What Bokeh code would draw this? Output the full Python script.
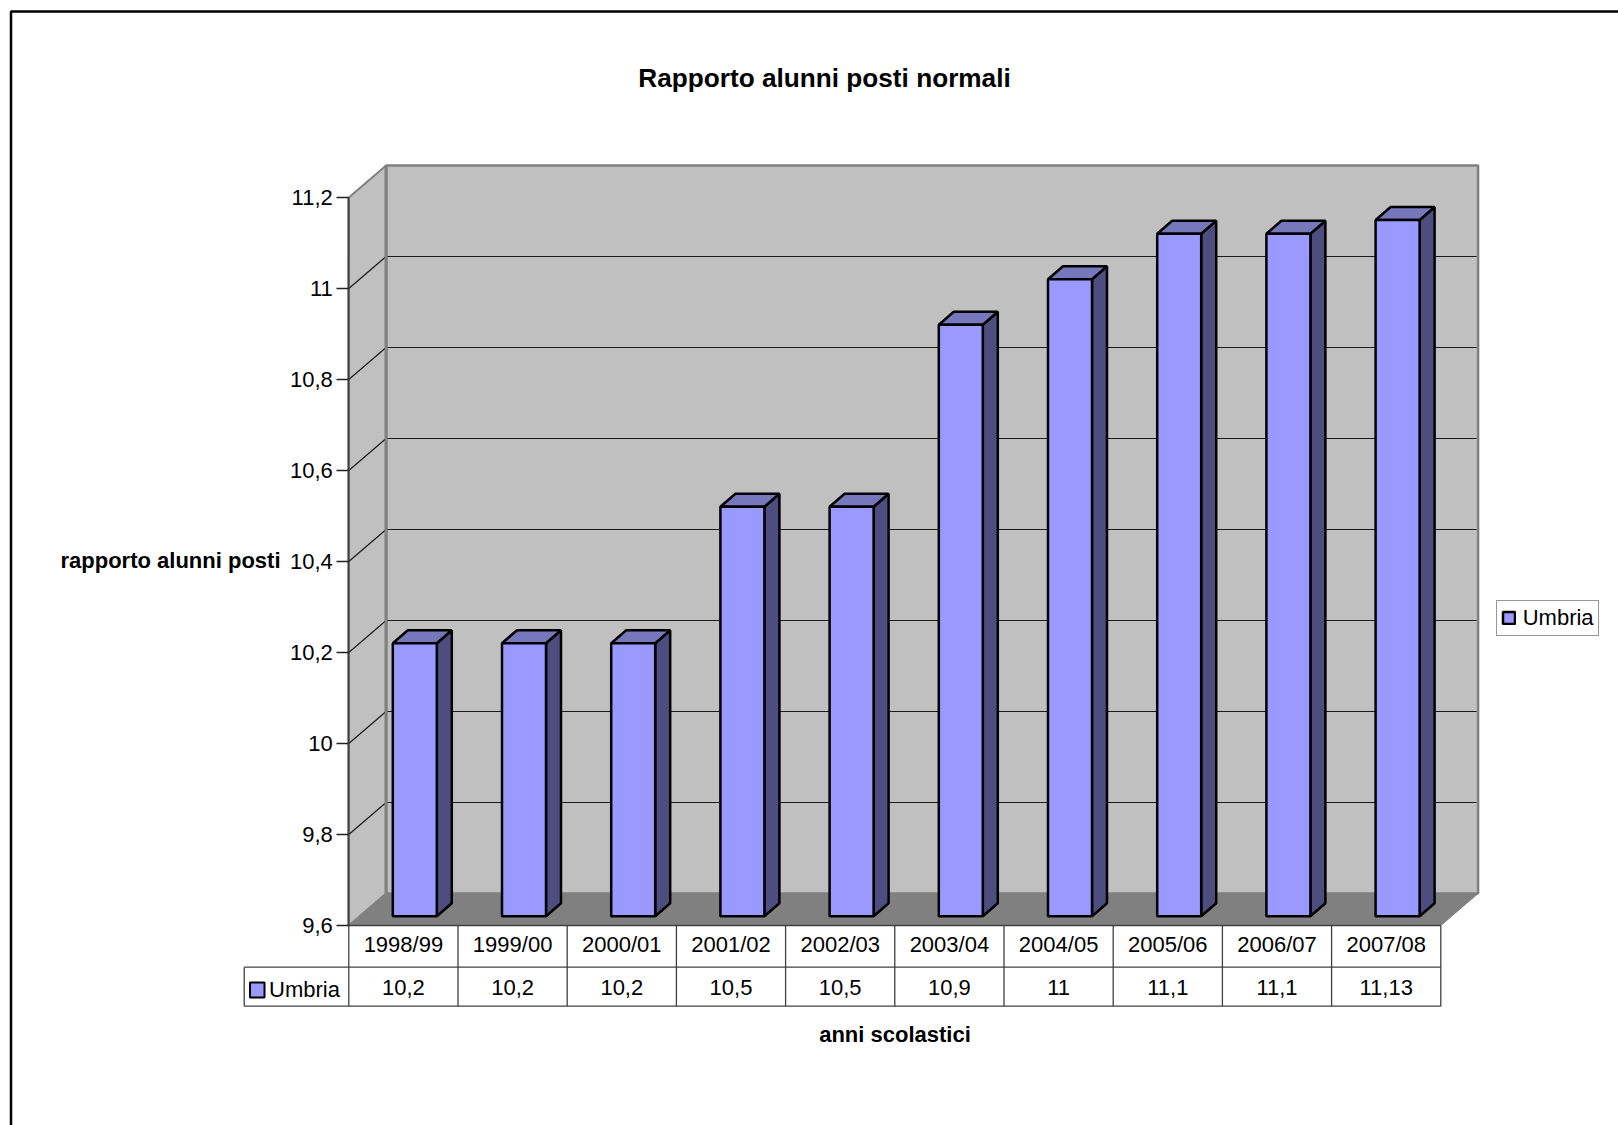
from bokeh.plotting import figure
from bokeh.embed import file_html
from bokeh.resources import INLINE
from bokeh.models import LinearAxis, FixedTicker, Range1d, Label, Legend, LegendItem
from bokeh.core.properties import value

title = "Rapporto alunni posti normali"
y_title = "rapporto alunni posti"
x_title = "anni scolastici"
series_name = "Umbria"
years = ["1998/99", "1999/00", "2000/01", "2001/02", "2002/03",
         "2003/04", "2004/05", "2005/06", "2006/07", "2007/08"]
umbria = [10.2, 10.2, 10.2, 10.5, 10.5, 10.9, 11, 11.1, 11.1, 11.13]
y_ticks = [9.6, 9.8, 10, 10.2, 10.4, 10.6, 10.8, 11, 11.2]

FONT = "Liberation Sans"
W, H = 1618, 1125
OX, OY = 0, 0
X0, CAT = 348.3, 109.2      # page px of first category edge, px per category
Y0, UNIT = 925.0, 455.0     # page px of the axis minimum, px per value unit
VMIN = y_ticks[0]
VMAX = y_ticks[-1]
n = len(years)

def dx(px): return px / CAT
def dy(px): return px / UNIT
def fx(px): return (px - X0) / CAT          # page x -> data x
def fy(py): return VMIN + (Y0 - py) / UNIT  # page y -> data y

p = figure(width=W, height=H, output_backend="svg", toolbar_location=None,
           x_axis_type=None, y_axis_type=None, min_border=0,
           x_range=Range1d(fx(OX), fx(OX + W)), y_range=Range1d(fy(OY + H), fy(OY)))
p.outline_line_color = None
p.grid.visible = False
p.background_fill_color = "white"

DEPTH_X, DEPTH_Y = dx(37.3), dy(32.0)
WALL = "#c0c0c0"
EDGE = "#808080"

# outer frame of the chart area (runs off the picture to the right and below)
p.line([fx(OX + W + 5), fx(10.5), fx(10.5)], [fy(11), fy(11), fy(OY + H + 5)],
       line_color="black", line_width=2.5)

# floor, side wall, back wall
p.patch([0, n, n + DEPTH_X, DEPTH_X], [VMIN, VMIN, VMIN + DEPTH_Y, VMIN + DEPTH_Y],
        fill_color=EDGE, line_color=EDGE, line_width=1)
p.patch([0, DEPTH_X, DEPTH_X, 0], [VMIN, VMIN + DEPTH_Y, VMAX + DEPTH_Y, VMAX],
        fill_color=WALL, line_color=EDGE, line_width=2)
p.patch([DEPTH_X, n + DEPTH_X, n + DEPTH_X, DEPTH_X],
        [VMIN + DEPTH_Y, VMIN + DEPTH_Y, VMAX + DEPTH_Y, VMAX + DEPTH_Y],
        fill_color=WALL, line_color=EDGE, line_width=2.5)

# gridlines across side and back wall
inner = y_ticks[1:-1]
p.multi_line([[0, DEPTH_X, n + DEPTH_X - dx(1.5)] for _ in inner],
             [[t, t + DEPTH_Y, t + DEPTH_Y] for t in inner],
             line_color="#1a1a1a", line_width=1.2)
p.line([DEPTH_X, DEPTH_X], [VMIN + DEPTH_Y, VMAX + DEPTH_Y], line_color=EDGE, line_width=3)

# bars
BAR_W = 44.0 / CAT
BAR_OFF = 44.0 / CAT     # gap from the category edge to the bar's front face
FRONT_Y = dy(9.3)        # the bars stand a little behind the front plane
SIDE_X, SIDE_Y = dx(15), dy(13)
x_left = [i + BAR_OFF for i in range(n)]
x_right = [x + BAR_W for x in x_left]
bar_bottom = VMIN + FRONT_Y
bar_top = [v + FRONT_Y for v in umbria]

side_xs = [[r, r + SIDE_X, r + SIDE_X, r] for r in x_right]
side_ys = [[bar_bottom, bar_bottom + SIDE_Y, t + SIDE_Y, t] for t in bar_top]
p.patches(side_xs, side_ys, fill_color="#4d4d80", line_color="black", line_width=2.5)

top_xs = [[l, l + SIDE_X, r + SIDE_X, r] for l, r in zip(x_left, x_right)]
top_ys = [[t, t + SIDE_Y, t + SIDE_Y, t] for t in bar_top]
p.patches(top_xs, top_ys, fill_color="#7777bb", line_color="black", line_width=2.5)

bars = p.quad(left=x_left, right=x_right, bottom=bar_bottom, top=bar_top,
              fill_color="#9999ff", line_color="black", line_width=2.5)

# y axis
yaxis = LinearAxis(fixed_location=0, bounds=(VMIN, VMAX), ticker=FixedTicker(ticks=y_ticks),
                   major_label_overrides={t: str(t).replace(".0", "").replace(".", ",") for t in y_ticks},
                   axis_line_color="#404040", axis_line_width=2,
                   major_tick_line_color="#202020", major_tick_line_width=1.5,
                   major_tick_out=12, major_tick_in=0, minor_tick_out=0, minor_tick_in=0,
                   major_label_standoff=4, major_label_text_font=FONT,
                   major_label_text_font_size="22px", major_label_text_color="black")
p.add_layout(yaxis, "left")

# data table under the chart
TABLE = "#404040"
ROW1, ROW2 = fy(966.7), fy(1005.7)
TAB_L = fx(243.7)
p.multi_line([[i, i] for i in range(n + 1)], [[VMIN, ROW2]] * (n + 1),
             line_color=TABLE, line_width=1.3)
p.multi_line([[0, n], [TAB_L, n], [TAB_L, n], [TAB_L, TAB_L]],
             [[VMIN, VMIN], [ROW1, ROW1], [ROW2, ROW2], [ROW1, ROW2]],
             line_color=TABLE, line_width=1.3)

centers = [i + 0.5 for i in range(n)]
p.text(centers, [fy(944)] * n, text=years, text_font=value(FONT), text_font_size="22px",
       text_align="center", text_baseline="middle", text_color="black")
p.text(centers, [fy(986.5)] * n, text=[str(v).replace(".", ",") for v in umbria],
       text_font=value(FONT), text_font_size="22px",
       text_align="center", text_baseline="middle", text_color="black")
p.quad(left=fx(249.5), right=fx(264), bottom=fy(997), top=fy(982),
       fill_color="#9999ff", line_color="black", line_width=2)
p.text([fx(268.5)], [fy(988.5)], text=[series_name], text_font=value(FONT), text_font_size="22px",
       text_align="left", text_baseline="middle", text_color="black")

# titles
def scr(x, y, txt, size, align="center"):
    p.add_layout(Label(x=x - OX, y=OY + H - y, x_units="screen", y_units="screen", text=txt,
                       text_font=FONT, text_font_size=size, text_font_style="bold",
                       text_align=align, text_baseline="middle", text_color="black"))
scr(824, 77, title, "26.2px")
scr(170, 560, y_title, "22px")
scr(894.5, 1034, x_title, "22px")

# legend
legend = Legend(items=[LegendItem(label=series_name, renderers=[bars])],
                location=(1495.7 - OX, OY + H - 635.5), orientation="vertical",
                label_text_font=FONT, label_text_font_size="22px", label_text_color="black",
                glyph_width=15, glyph_height=15, padding=4, margin=0, spacing=0,
                label_standoff=7, border_line_color="#303030", border_line_width=1.3,
                background_fill_color="white", background_fill_alpha=1)
p.add_layout(legend, "center")

open("out.html", "w").write(file_html(p, INLINE))
